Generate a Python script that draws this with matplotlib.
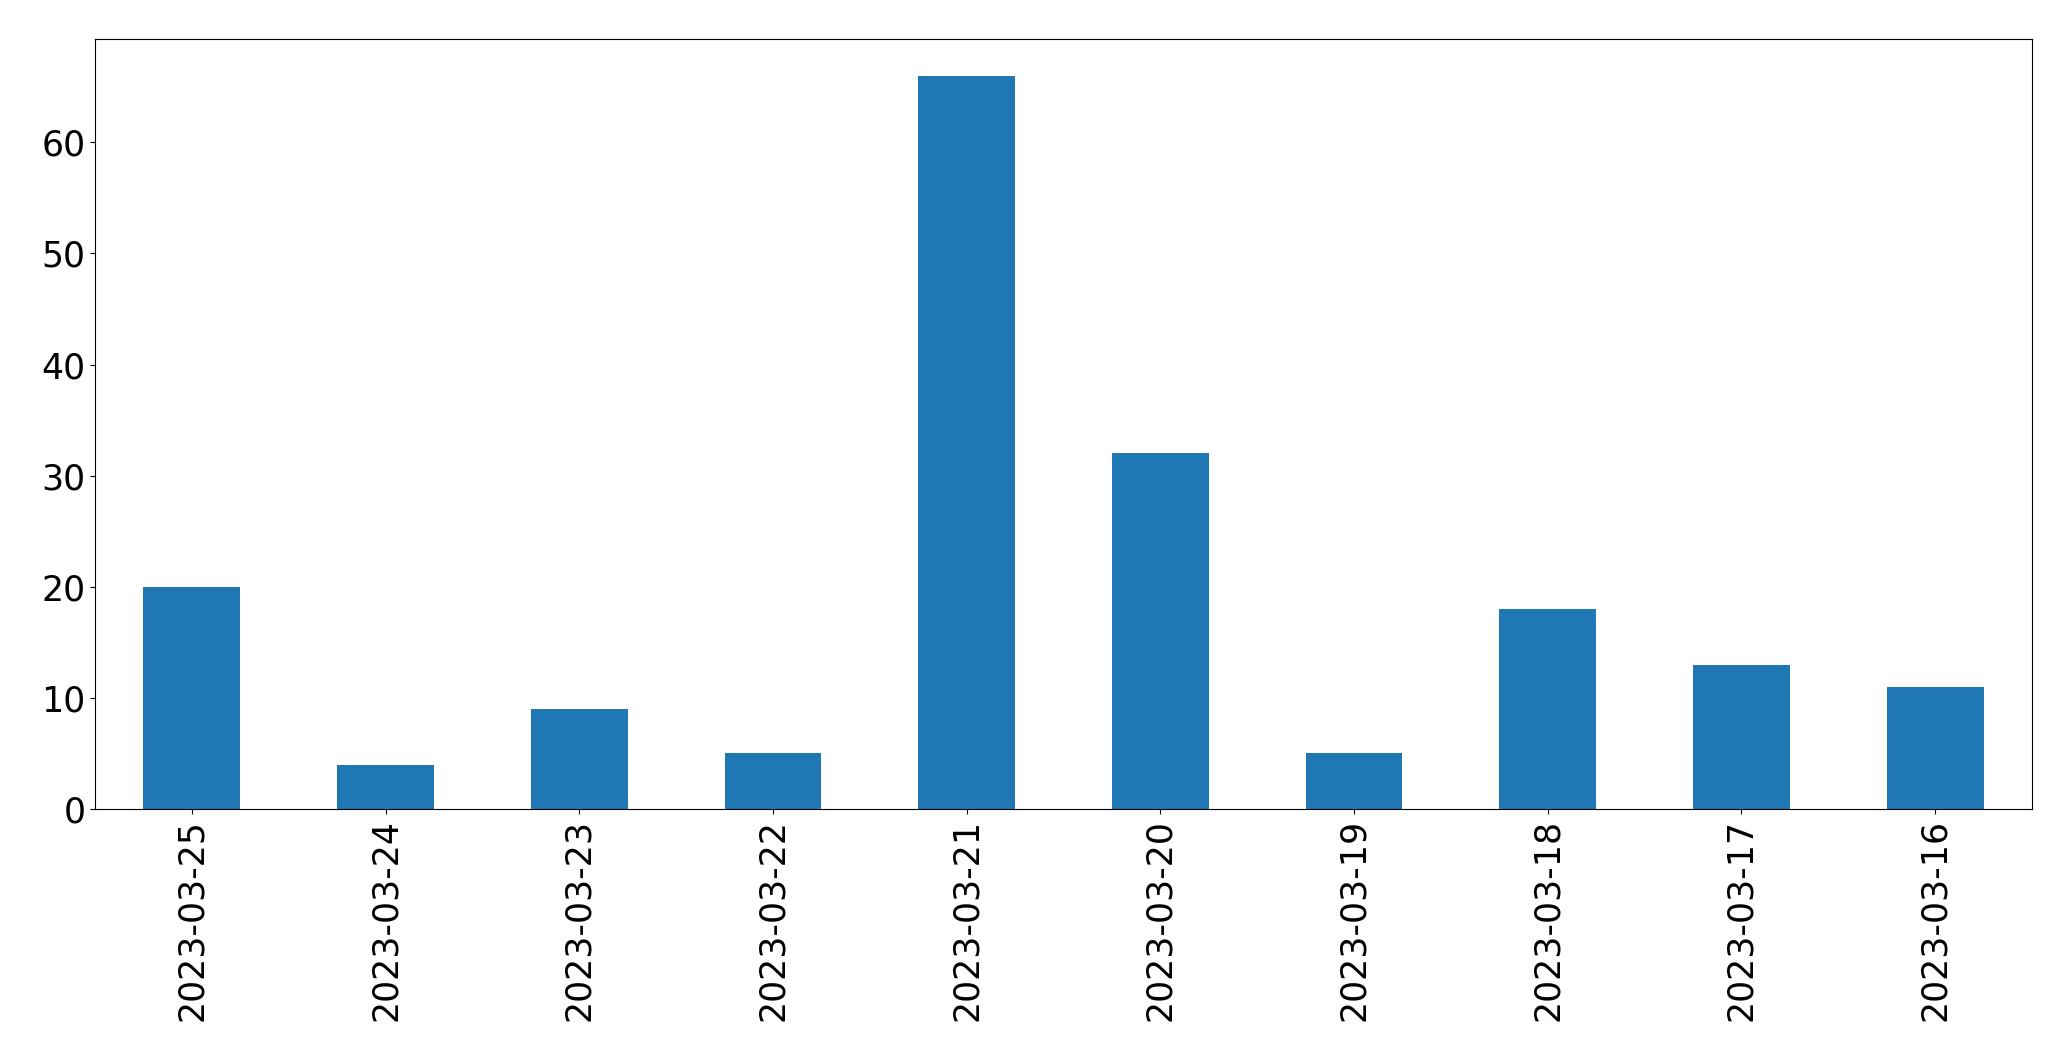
import matplotlib
matplotlib.use("Agg")
import matplotlib.pyplot as plt

dates = ["2023-03-25", "2023-03-24", "2023-03-23", "2023-03-22", "2023-03-21",
         "2023-03-20", "2023-03-19", "2023-03-18", "2023-03-17", "2023-03-16"]
counts = [20, 4, 9, 5, 66, 32, 5, 18, 13, 11]

W, H = 2071, 1061
fig = plt.figure(figsize=(W / 100, H / 100), dpi=100)
ax = fig.add_axes([95 / W, (H - 809) / H, (2032 - 95) / W, (809 - 39) / H])

x = list(range(len(dates)))
ax.bar(x, counts, width=0.5, color="#1f77b4")
ax.set_xlim(-0.5, len(dates) - 0.5)
ax.set_ylim(0, max(counts) * 1.05)
ax.set_xticks(x)
ax.set_xticklabels(dates, rotation=90)
ax.tick_params(labelsize=25)

fig.savefig("out.png", dpi=100)
